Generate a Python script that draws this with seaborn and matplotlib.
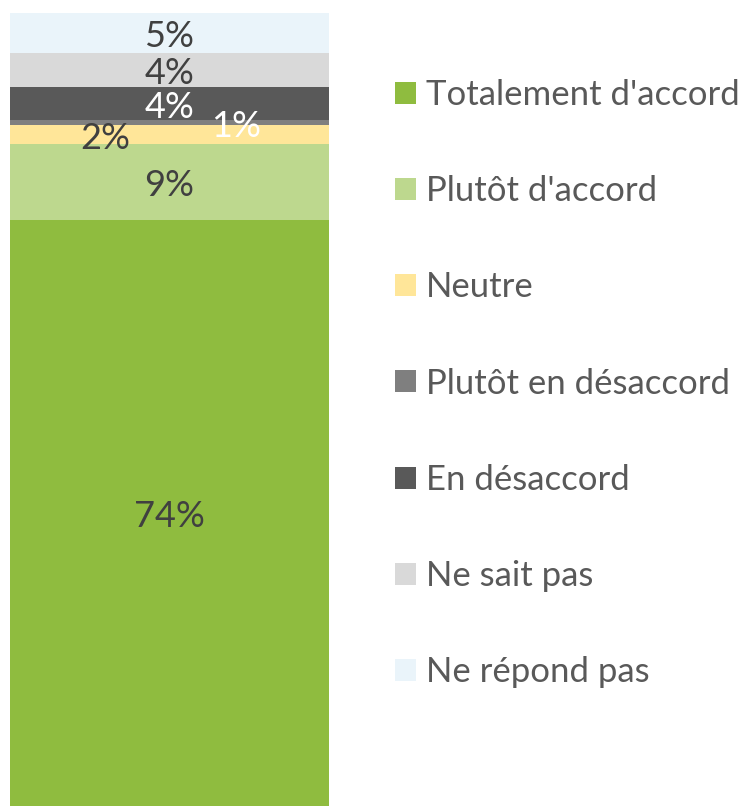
import matplotlib
matplotlib.use("Agg")
import matplotlib.pyplot as plt
import matplotlib.transforms as mtransforms
import seaborn as sns
import pandas as pd
import numpy as np
from matplotlib.patches import Patch

categories = ["Totalement d'accord", "Plutôt d'accord", "Neutre",
              "Plutôt en désaccord", "En désaccord", "Ne sait pas", "Ne répond pas"]
values = [73.9, 9.6, 2.4, 0.6, 4.2, 4.3, 5.0]
labels = ["74%", "9%", "2%", "1%", "4%", "4%", "5%"]
colors = ["#8FBC3F", "#BDD88E", "#FFE699", "#7F7F7F", "#595959", "#D9D9D9", "#EAF4FA"]
label_colors = ["#404040", "#404040", "#404040", "#FFFFFF", "#FFFFFF", "#404040", "#404040"]
label_dx = [0, 0, -0.162, 0.167, 0, 0, 0]

sns.set_theme(style="white")
plt.rcParams['font.family'] = ['Lato', 'DejaVu Sans']

W, H = 743, 806
fig = plt.figure(figsize=(W / 100, H / 100), dpi=100)
ax = fig.add_axes([10 / W, 0, 319 / W, 793 / H])

cum = np.cumsum(values)
df = pd.DataFrame({"grp": ["all"] * len(categories), "cat": categories,
                   "top": cum, "val": values})
# draw from the highest cumulative level down so smaller stacks overlay
for i in range(len(categories) - 1, -1, -1):
    sns.barplot(data=df.iloc[[i]], x="grp", y="top", color=colors[i],
                width=0.8, ax=ax, saturation=1, edgecolor="none", linewidth=0)

ax.set_xlim(-0.4, 0.4)
ax.set_ylim(0, 100)
ax.axis("off")

fs = 26
shift = mtransforms.offset_copy(ax.transData, fig=fig, x=0, y=-4, units="dots")
for i, (v, c) in enumerate(zip(values, cum)):
    ax.text(label_dx[i], c - v / 2, labels[i], ha="center", va="center",
            fontsize=fs, color=label_colors[i], transform=shift)

handles = [Patch(facecolor=colors[i], edgecolor="none", label=categories[i])
           for i in range(len(categories))]
leg = fig.legend(handles=handles, loc="upper left", bbox_to_anchor=(395 / W, 1 - 79 / H),
                 frameon=False, fontsize=25, handlelength=0.6, handleheight=0.6,
                 handletextpad=0.3, labelspacing=1.85, borderaxespad=0, borderpad=0)
for t in leg.get_texts():
    t.set_color("#595959")

fig.savefig("out.png", dpi=100)
